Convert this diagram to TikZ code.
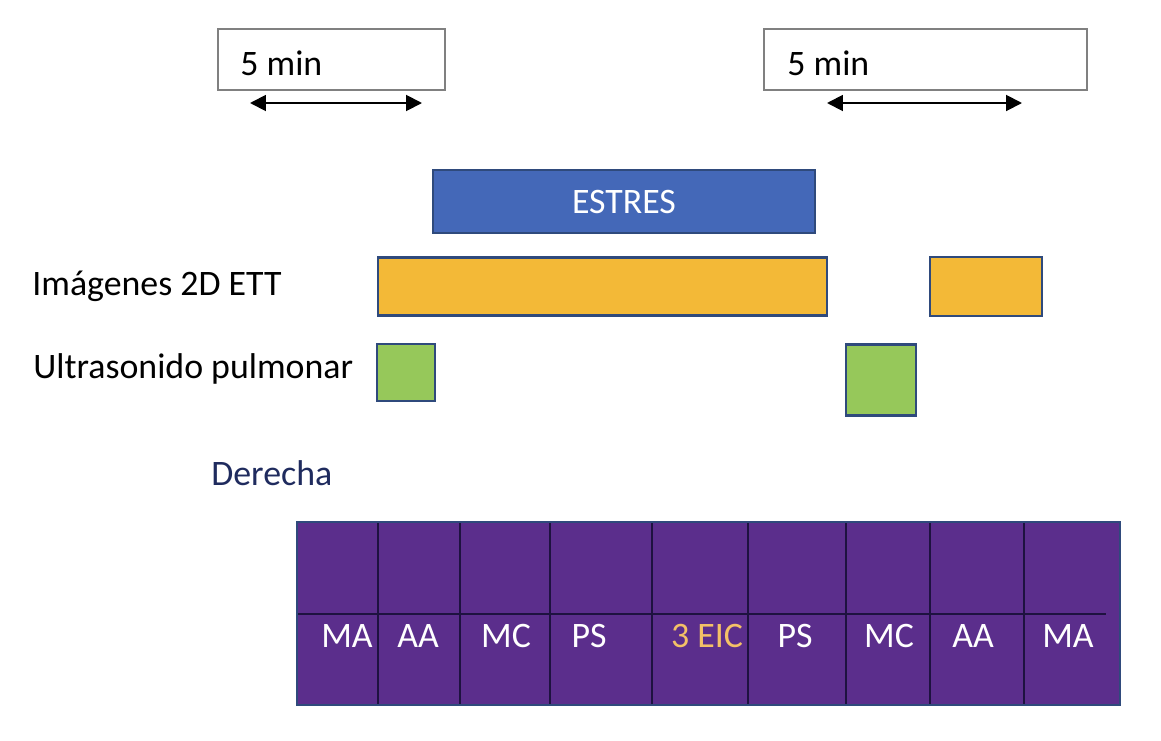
\documentclass[tikz,border=0pt]{standalone}
\usepackage{fontspec}
\setmainfont{Carlito}
\usetikzlibrary{arrows.meta,positioning}
\definecolor{estresblue}{HTML}{4468B8}
\definecolor{barline}{HTML}{2F4A7C}
\definecolor{ettorange}{HTML}{F3B937}
\definecolor{lusgreen}{HTML}{96C85A}
\definecolor{tablapurple}{HTML}{5B2E8C}
\definecolor{celline}{HTML}{1E1240}
\definecolor{derechanavy}{HTML}{1F2B5E}
\definecolor{eicorange}{HTML}{F4C167}

\begin{document}
\begin{tikzpicture}[x=0.02cm,y=-0.02cm,
    every node/.style={font=\fontsize{20.4}{24}\selectfont},
    timebox/.style={draw=black!50,line width=0.8pt,inner sep=0,outer sep=0},
    bar/.style={draw=barline,line width=1.6pt,inner sep=0,outer sep=0},
    lbl/.style={anchor=base west,inner sep=0},
    dur/.style={{Triangle[length=9pt,width=9pt]}-{Triangle[length=9pt,width=9pt]},line width=1.1pt}]
  \useasboundingbox (0,0) rectangle (1161,741);
  % periodos de 5 min
  \node[timebox,minimum width=4.54cm,minimum height=1.22cm] (caja1) at (331.5,59.5) {};
  \node[timebox,minimum width=6.46cm,minimum height=1.22cm] (caja2) at (925.5,59.5) {};
  \node[lbl] (min1) at (240,75) {5 min};
  \node[lbl] (min2) at (787,75) {5 min};
  \coordinate (d1a) at (250,103);
  \coordinate (d1b) at (422,103);
  \coordinate (d2a) at (827,103);
  \coordinate (d2b) at (1022,103);
  \draw[dur] (d1a) -- (d1b);
  \draw[dur] (d2a) -- (d2b);
  % estres y adquisiciones
  \node[bar,fill=estresblue,text=white,minimum width=7.64cm,minimum height=1.26cm] (estres) at (624,201.5) {ESTRES};
  \node[bar,fill=ettorange,minimum width=8.98cm,minimum height=1.16cm] (ett1) at (602.5,286.5) {};
  \node[bar,fill=ettorange,minimum width=2.24cm,minimum height=1.18cm] (ett2) at (986,286.5) {};
  \node[bar,fill=lusgreen,minimum width=1.16cm,minimum height=1.14cm] (lus1) at (406,372.5) {};
  \node[bar,fill=lusgreen,minimum width=1.40cm,minimum height=1.42cm] (lus2) at (881,380) {};
  \node[lbl] (imagenes) at (32,295) {Imágenes 2D ETT};
  \node[lbl] (ultrasonido) at (33,378) {Ultrasonido pulmonar};
  \node[lbl,text=derechanavy] (derecha) at (211,485) {Derecha};
  % zonas del torax
  \node[fill=tablapurple,minimum width=16.46cm,minimum height=3.66cm,inner sep=0,outer sep=0] (tabla) at (708.5,613.5) {};
  \foreach \x in {378,460,550,652,748,846,930,1024}
    \draw[celline,line width=0.7pt] (\x,522) -- (\x,705);
  \draw[celline,line width=0.7pt] (297,614) -- (1106,614);
  \draw[barline,line width=1.1pt] (tabla.north west) rectangle (tabla.south east);
  \foreach \x/\z in {347/MA,418/AA,506/MC,589/PS,795/PS,889/MC,973/AA,1068/MA}
    \node[anchor=base,text=white,inner sep=0] (zona\x) at (\x,647) {\z};
  \node[anchor=base,text=eicorange,inner sep=0] (eic) at (707,647) {3 EIC};
\end{tikzpicture}
\end{document}
